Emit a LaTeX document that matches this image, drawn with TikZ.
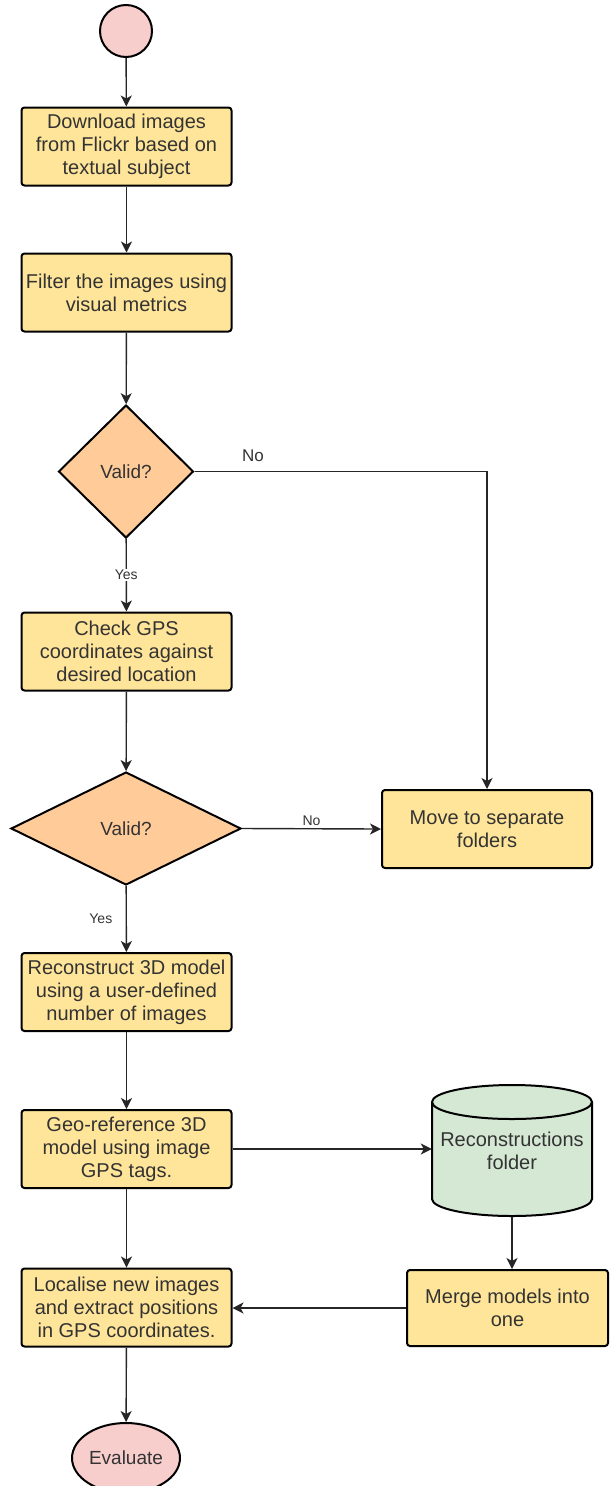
\documentclass[tikz,border=0pt]{standalone}
\usepackage{fontspec}
\setmainfont{Liberation Sans}
\usetikzlibrary{shapes.geometric,arrows.meta}
\definecolor{boxfill}{HTML}{FFE599}
\definecolor{decfill}{HTML}{FFCC99}
\definecolor{termfill}{HTML}{F8CECC}
\definecolor{cylfill}{HTML}{D5E8D4}
\definecolor{txt}{HTML}{333333}
\begin{document}
\begin{tikzpicture}[x=1pt,y=-1pt,
 proc/.style={draw=black, line width=2pt, fill=boxfill, rounded corners=3pt, minimum width=210pt, minimum height=78pt, align=center, font=\fontsize{20}{23}\selectfont, text=txt, inner sep=1pt},
 dec/.style={diamond, draw=black, line width=2pt, fill=decfill, minimum width=135pt, minimum height=133pt, inner sep=0pt, font=\fontsize{19}{23}\selectfont, text=txt},
 term/.style={draw=black, line width=2pt, fill=termfill, inner sep=0pt, font=\fontsize{19}{23}\selectfont, text=txt},
 conn/.style={draw=black!85, line width=1.4pt, -{Stealth[length=11pt,width=11pt,inset=3pt]}},
 lbl/.style={font=\fontsize{14}{16}\selectfont, text=txt},
]
\useasboundingbox (0,0) rectangle (611,1486);

\node[term, circle, minimum size=52pt] (start) at (126,31) {};
\node[proc] (b1) at (126.5,146.5) {Download images\\from Flickr based on\\textual subject};
\node[proc] (b2) at (126.5,292.5) {Filter the images using\\visual metrics};
\node[dec] (d1) at (126,471.5) {Valid?};
\node[proc] (b3) at (126.5,651.5) {Check GPS\\coordinates against\\desired location};
\node[dec, minimum width=230pt, minimum height=113pt] (d2) at (126,828.5) {Valid?};
\node[proc] (mv) at (487,829) {Move to separate\\folders};
\node[proc] (b4) at (126.5,992) {Reconstruct 3D model\\using a user-defined\\number of images};
\node[proc] (b5) at (126.5,1149) {Geo-reference 3D\\model using image\\GPS tags.};

% cylinder
\fill[cylfill] (432,1102) rectangle (592,1199);
\fill[cylfill] (512,1199) ellipse [x radius=80pt, y radius=17pt];
\draw[line width=2pt] (432,1102) -- (432,1199) arc[start angle=180,end angle=360,x radius=80pt,y radius=17pt] -- (592,1102);
\draw[line width=2pt, fill=cylfill] (512,1102) ellipse [x radius=80pt, y radius=17pt];
\node[minimum width=160pt, minimum height=132pt, inner sep=0pt, align=center, font=\fontsize{20}{23}\selectfont, text=txt] (cyl) at (512,1151) {Reconstructions\\folder};

\node[proc, minimum width=201pt, minimum height=76pt] (mg) at (507.5,1308) {Merge models into\\one};
\node[proc] (b6) at (126.5,1307.5) {Localise new images\\and extract positions\\in GPS coordinates.};
\node[term, ellipse, minimum width=108pt, minimum height=70pt] (ev) at (126,1458) {Evaluate};

\draw[conn] (start) -- (b1);
\draw[conn] (b1) -- (b2);
\draw[conn] (b2) -- (d1);
\draw[conn] (d1) -- node[lbl, fill=white, inner sep=1pt] {Yes} (b3);
\draw[conn] (d1.east) -| node[pos=0.1, anchor=south, yshift=6pt, font=\fontsize{17}{19}\selectfont, text=txt] {No} (mv.north);
\draw[conn] (b3) -- (d2);
\draw[conn] (d2.east) -- node[lbl, above, inner sep=2pt] {No} (mv.west);
\draw[conn] (d2) -- node[lbl, left=10pt] {Yes} (b4);
\draw[conn] (b4) -- (b5);
\draw[conn] (b5.east) -- (b5.east -| cyl.west);
\draw[conn] (cyl.south) -- (cyl.south |- mg.north);
\draw[conn] (mg.west) -- (mg.west -| b6.east);
\draw[conn] (b5) -- (b6);
\draw[conn] (b6) -- (ev);
\end{tikzpicture}
\end{document}
